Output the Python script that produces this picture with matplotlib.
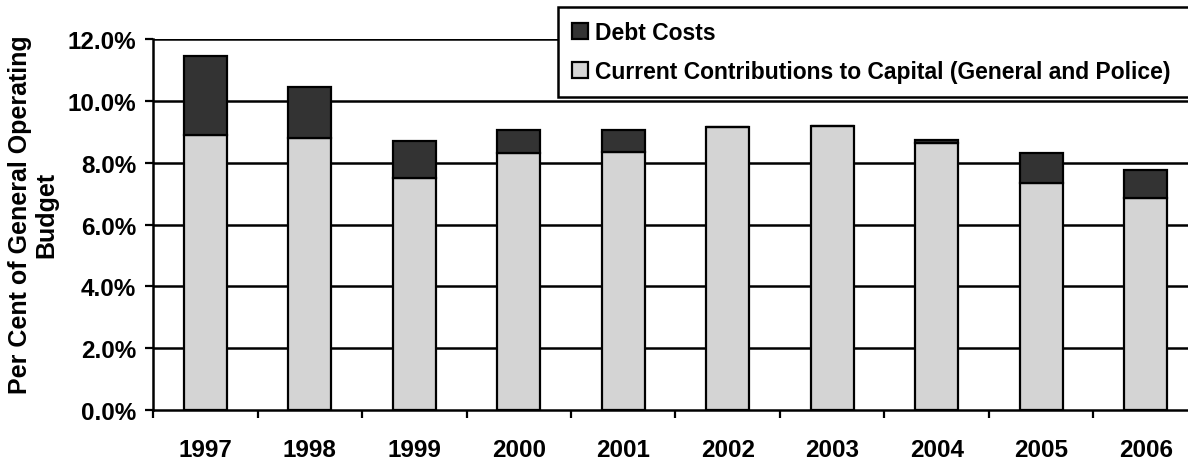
import matplotlib
matplotlib.use("Agg")
import matplotlib.pyplot as plt
import numpy as np

years = ["1997", "1998", "1999", "2000", "2001", "2002", "2003", "2004", "2005", "2006"]
capital = [8.9, 8.8, 7.5, 8.3, 8.35, 9.15, 9.2, 8.65, 7.35, 6.85]
debt = [2.55, 1.65, 1.2, 0.75, 0.7, 0.0, 0.0, 0.07, 0.97, 0.9]
yticks = [0, 2, 4, 6, 8, 10, 12]

plt.rcParams["font.family"] = ["Liberation Sans", "DejaVu Sans"]
plt.rcParams["font.weight"] = "bold"

fig = plt.figure(figsize=(11.88, 4.64), dpi=100)
ax = fig.add_axes([0.1288, 0.1142, 0.8796, 0.7996])

x = np.arange(len(years))
w = 0.41
ax.bar(x, capital, w, color="#d4d4d4", edgecolor="black", linewidth=1.6,
       zorder=3, label="Current Contributions to Capital (General and Police)")
ax.bar(x, debt, w, bottom=capital, color="#333333", edgecolor="black",
       linewidth=1.6, zorder=3, label="Debt Costs")

for v in yticks[1:]:
    ax.axhline(v, color="black", lw=1.8, zorder=1)

ax.set_xlim(-0.5, len(years) - 0.5)
ax.set_ylim(0, 12)
ax.set_yticks(yticks)
ax.set_yticklabels(["%.1f%%" % v for v in yticks], fontsize=17.5, fontweight="bold")
ax.set_xticks(x)
ax.set_xticklabels(years, fontsize=17.5, fontweight="bold")
ax.set_xticks(np.arange(len(years) + 1) - 0.5, minor=True)
ax.tick_params(axis="x", which="major", length=0, pad=20)
ax.tick_params(axis="x", which="minor", length=6, width=1.6, direction="out")
ax.tick_params(axis="y", length=6, width=1.6, direction="out", pad=6)

for s in ["top", "right"]:
    ax.spines[s].set_visible(False)
for s in ["left", "bottom"]:
    ax.spines[s].set_linewidth(1.8)

fig.text(0.028, 0.537, "Per Cent of General Operating\nBudget", rotation=90,
         ha="center", va="center", multialignment="center", fontsize=18,
         fontweight="bold", linespacing=1.1)

handles, labels = ax.get_legend_handles_labels()
leg = fig.legend(handles[::-1], labels[::-1], loc="upper left",
                 bbox_to_anchor=(0.4697, 0.79, 0.56, 0.193), mode="expand",
                 fontsize=16.5, frameon=True, fancybox=False, framealpha=1,
                 edgecolor="black", handlelength=0.7, handleheight=0.7,
                 handletextpad=0.3, labelspacing=0.68, borderpad=0.62,
                 borderaxespad=0)
leg.get_frame().set_linewidth(1.8)
for t in leg.get_texts():
    t.set_fontweight("bold")

fig.savefig("out.png", dpi=100, facecolor="white")
